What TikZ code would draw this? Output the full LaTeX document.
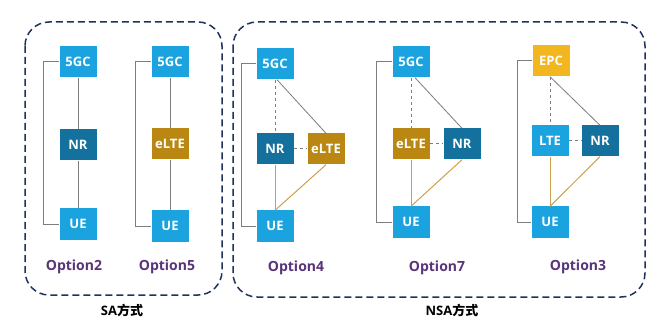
\documentclass[tikz,border=0pt]{standalone}
\usepackage{fontspec}
\setmainfont{Open Sans}
\newfontfamily\cjk{Noto Sans CJK SC}
\definecolor{lblue}{RGB}{27,163,224}
\definecolor{dblue}{RGB}{20,112,157}
\definecolor{mustard}{RGB}{186,136,18}
\definecolor{gold}{RGB}{242,182,30}
\definecolor{purp}{RGB}{90,52,122}
\definecolor{navy}{RGB}{30,50,95}
\definecolor{lgray}{RGB}{125,125,125}
\definecolor{tan}{RGB}{205,160,80}
\tikzset{
  nbox/.style={minimum width=37pt,minimum height=31pt,inner sep=0pt,text=white,font=\bfseries\fontsize{13}{13}\selectfont},
  lb/.style={nbox,fill=lblue},
  db/.style={nbox,fill=dblue},
  mu/.style={nbox,fill=mustard},
  go/.style={nbox,fill=gold},
  optlabel/.style={text=purp,font=\bfseries\fontsize{14}{14}\selectfont},
  grouplabel/.style={text=black,font=\bfseries\fontsize{13}{13}\selectfont},
  frame/.style={draw=navy,line width=1.5pt,dash pattern=on 7pt off 4pt,rounded corners=24pt},
  bracket/.style={draw=lgray,line width=1pt},
  solidg/.style={draw=lgray,line width=0.8pt},
  dashg/.style={draw=lgray,line width=1pt,dash pattern=on 3pt off 3pt},
  ol/.style={draw=tan,line width=1pt}
}
\begin{document}
\begin{tikzpicture}[x=1pt,y=-1pt]
\useasboundingbox[fill=white] (0,0) rectangle (661,331);
% frames
\draw[frame] (25,22) rectangle (222,295);
\draw[frame] (233,22) rectangle (645,297);
% Option2
\node[lb] (a5) at (78,62) {5GC};
\node[db] (an) at (78,145) {NR};
\node[lb] (au) at (78,224) {UE};
\draw[bracket] (a5.west) -- ++(-16,0) |- (au.west);
\draw[solidg] (a5.south) -- (an.north);
\draw[solidg] (an.south) -- (au.north);
\node[optlabel] (al) at (74,267) {Option2};
% Option5
\node[lb] (b5) at (170,62) {5GC};
\node[mu] (be) at (170,144) {eLTE};
\node[lb] (bu) at (170,226) {UE};
\draw[bracket] (b5.west) -- ++(-16,0) |- (bu.west);
\draw[solidg] (b5.south) -- (be.north);
\draw[solidg] (be.south) -- (bu.north);
\node[optlabel] (bl) at (167,267) {Option5};
% Option4
\node[lb] (c5) at (275,64) {5GC};
\node[db] (cn) at (275,149) {NR};
\node[mu] (ce) at (326,149) {eLTE};
\node[lb] (cu) at (275,226) {UE};
\draw[bracket] (c5.west) -- ++(-15,0) |- (cu.west);
\draw[dashg] (c5.south) -- (cn.north);
\draw[solidg] ([xshift=2pt]c5.south) -- (ce.north);
\draw[dashg] (cn.east) -- (ce.west);
\draw[ol] (cn.south) -- (cu.north);
\draw[ol] (ce.south) -- (cu.north);
\node[optlabel] (cl) at (296,268) {Option4};
% Option7
\node[lb] (d5) at (411,62) {5GC};
\node[mu] (de) at (411,144) {eLTE};
\node[db] (dn) at (462,144) {NR};
\node[lb] (du) at (411,222) {UE};
\draw[bracket] (d5.west) -- ++(-16,0) |- (du.west);
\draw[dashg] (d5.south) -- (de.north);
\draw[solidg] ([xshift=4pt]d5.south) -- (dn.north);
\draw[dashg] (de.east) -- (dn.west);
\draw[ol] (de.south) -- (du.north);
\draw[ol] (dn.south) -- (du.north);
\node[optlabel] (dl) at (437,268) {Option7};
% Option3
\node[go] (e5) at (551,61) {EPC};
\node[lb] (el) at (550,141) {LTE};
\node[db] (en) at (600,141) {NR};
\node[lb] (eu) at (550,222) {UE};
\draw[bracket] (e5.west) -- ++(-15,0) |- (eu.west);
\draw[dashg] ([xshift=-1pt]e5.south) -- (el.north);
\draw[solidg] ([xshift=-1pt]e5.south) -- (en.north);
\draw[dashg] (el.east) -- (en.west);
\draw[ol] (el.south) -- (eu.north);
\draw[ol] (en.south) -- (eu.north);
\node[optlabel] (el3) at (578,267) {Option3};
% group labels
\node[grouplabel] (sa) at (122,310) {SA{\cjk 方式}};
\node[grouplabel] (nsa) at (452,310) {NSA{\cjk 方式}};
\end{tikzpicture}
\end{document}
